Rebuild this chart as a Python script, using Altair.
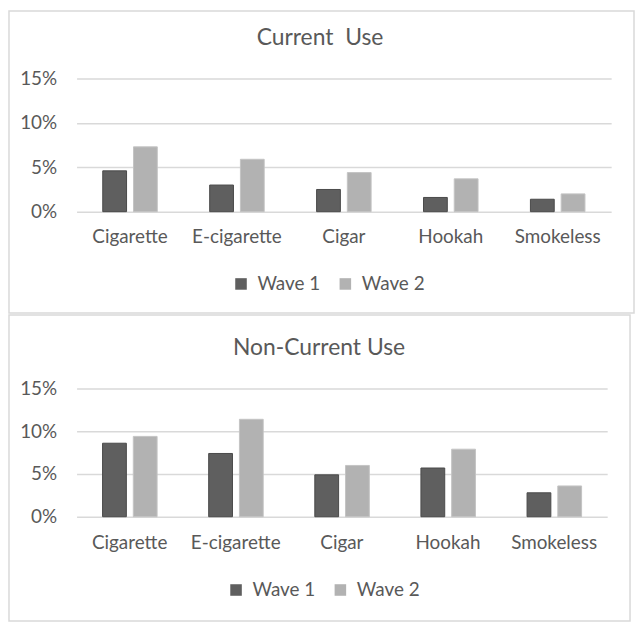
import altair as alt
import pandas as pd

categories = ["Cigarette", "E-cigarette", "Cigar", "Hookah", "Smokeless"]
waves = ["Wave 1", "Wave 2"]
current_w1 = [4.6, 3.0, 2.5, 1.6, 1.4]
current_w2 = [7.3, 5.9, 4.4, 3.7, 2.0]
noncurrent_w1 = [8.6, 7.4, 4.9, 5.7, 2.8]
noncurrent_w2 = [9.4, 11.4, 6.0, 7.9, 3.6]
y_ticks = [0, 0.05, 0.10, 0.15]
titles = ["Current\u00a0 Use", "Non-Current Use"]

FONT = "Lato"
TXT = "#595959"
GRID = "#d9d9d9"


def panel(title, w1, w2, width, height, title_offset, title_dx, xlab_pad,
          legend_x, legend_y, box):
    rows = []
    for c, a, b in zip(categories, w1, w2):
        rows.append({"Category": c, "Wave": waves[0], "Value": a / 100})
        rows.append({"Category": c, "Wave": waves[1], "Value": b / 100})
    df = pd.DataFrame(rows)

    bars = alt.Chart(df).mark_bar(strokeWidth=1).encode(
        x=alt.X("Category:N", sort=categories,
                scale=alt.Scale(paddingInner=0.49, paddingOuter=0.245),
                axis=alt.Axis(title=None, labelAngle=0, labelPadding=xlab_pad,
                              labelFontSize=19, labelFont=FONT, labelColor=TXT,
                              domain=False, ticks=False, grid=False)),
        xOffset=alt.XOffset("Wave:N", sort=waves,
                            scale=alt.Scale(paddingInner=0.226, paddingOuter=0)),
        y=alt.Y("Value:Q", scale=alt.Scale(domain=[0, 0.15], nice=False),
                axis=alt.Axis(title=None, values=y_ticks, format=".0%",
                              labelFontSize=19, labelFont=FONT, labelColor=TXT,
                              labelPadding=20, domain=False, ticks=False,
                              grid=True, gridColor=GRID, gridWidth=1.5)),
        color=alt.Color("Wave:N", sort=waves,
                        scale=alt.Scale(domain=waves, range=["#5f5f5f", "#b2b2b2"]),
                        legend=alt.Legend(title=None, orient="none",
                                          legendX=legend_x, legendY=legend_y,
                                          direction="horizontal",
                                          symbolType="square", symbolSize=135,
                                          symbolStrokeWidth=0,
                                          labelFontSize=19, labelFont=FONT,
                                          labelColor=TXT, labelOffset=7,
                                          columnPadding=15, padding=0)),
        stroke=alt.Stroke("Wave:N", sort=waves,
                          scale=alt.Scale(domain=waves, range=["#4a4a4a", "#c4c4c4"]),
                          legend=None),
    )

    border = alt.Chart(pd.DataFrame({"k": [0]})).mark_rect(
        fillOpacity=0, stroke=GRID, strokeWidth=1.5, clip=False
    ).encode(
        x=alt.value(box[0]), x2=alt.value(box[1]),
        y=alt.value(box[2]), y2=alt.value(box[3]),
    )

    return alt.layer(border, bars).properties(
        width=width, height=height,
        title=alt.TitleParams(title, fontSize=23, font=FONT, color=TXT,
                              fontWeight="normal", anchor="middle", frame="group",
                              offset=title_offset, dx=title_dx),
    ).resolve_legend(color="independent")


top = panel(titles[0], current_w1, current_w2, 538, 134, -40, -24, 16,
            156, 197, (-68, 561, -68, 236))
bottom = panel(titles[1], noncurrent_w1, noncurrent_w2, 534, 129, -46, -23, 17,
               151, 193, (-68, 557, -74, 234))

chart = alt.vconcat(top, bottom, spacing=178, bounds="flush").resolve_scale(
    color="independent", stroke="independent"
).resolve_legend(color="independent").configure(
    font=FONT, padding=0
).configure_view(stroke=None)

chart.save("out.html", embed_options={"renderer": "svg", "actions": False})
